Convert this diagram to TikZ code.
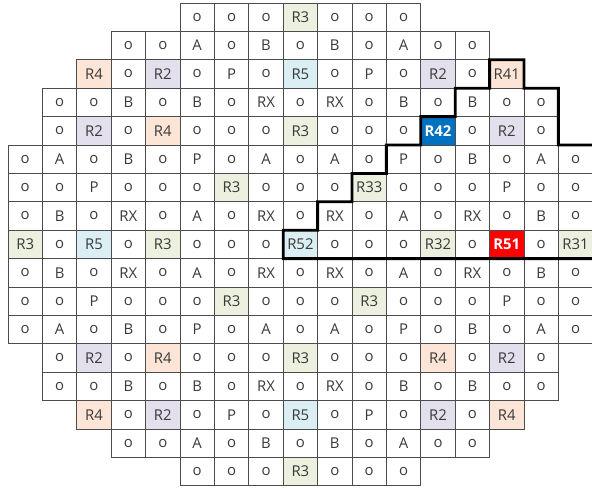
\documentclass[tikz,border=0pt]{standalone}
\usepackage{fontspec}
\setmainfont{Open Sans}
\usepackage{xcolor}
\usepackage{tikz}
\usetikzlibrary{positioning,calc}

\definecolor{rtwo}{HTML}{E4DFEC}
\definecolor{rthree}{HTML}{EBF1DE}
\definecolor{rfour}{HTML}{FCE4D6}
\definecolor{rfive}{HTML}{DAEEF3}
\definecolor{rblue}{HTML}{0070C0}
\definecolor{rred}{HTML}{FF0000}
\definecolor{txt}{HTML}{3A3A3A}

\begin{document}
\begin{tikzpicture}[
    x=0.86cm, y=0.71cm,
    cell/.style={rectangle, draw=black!70, line width=0.55pt, minimum width=0.86cm, minimum height=0.71cm, inner sep=0pt, outer sep=0pt, text=txt, font=\fontsize{10.6}{12}\selectfont},
    c-o/.style={}, c-A/.style={}, c-B/.style={}, c-P/.style={}, c-RX/.style={},
    c-R2/.style={fill=rtwo},
    c-R3/.style={fill=rthree}, c-R31/.style={fill=rthree}, c-R32/.style={fill=rthree}, c-R33/.style={fill=rthree},
    c-R4/.style={fill=rfour}, c-R41/.style={fill=rfour},
    c-R5/.style={fill=rfive}, c-R52/.style={fill=rfive},
    c-R42/.style={fill=rblue, text=white, font=\fontsize{10.6}{12}\selectfont\bfseries},
    c-R51/.style={fill=rred, text=white, font=\fontsize{10.6}{12}\selectfont\bfseries},
    border/.style={draw=black, line width=2pt}
]

\useasboundingbox (-0.2cm,0.075cm) rectangle (14.6cm,-12.125cm);

% row / first column / cells
\foreach \r/\s/\labs in {
    1/6/{o,o,o,R3,o,o,o},
    2/4/{o,o,A,o,B,o,B,o,A,o,o},
    3/3/{R4,o,R2,o,P,o,R5,o,P,o,R2,o,R41},
    4/2/{o,o,B,o,B,o,RX,o,RX,o,B,o,B,o,o},
    5/2/{o,R2,o,R4,o,o,o,R3,o,o,o,R42,o,R2,o},
    6/1/{o,A,o,B,o,P,o,A,o,A,o,P,o,B,o,A,o},
    7/1/{o,o,P,o,o,o,R3,o,o,o,R33,o,o,o,P,o,o},
    8/1/{o,B,o,RX,o,A,o,RX,o,RX,o,A,o,RX,o,B,o},
    9/1/{R3,o,R5,o,R3,o,o,o,R52,o,o,o,R32,o,R51,o,R31},
    10/1/{o,B,o,RX,o,A,o,RX,o,RX,o,A,o,RX,o,B,o},
    11/1/{o,o,P,o,o,o,R3,o,o,o,R3,o,o,o,P,o,o},
    12/1/{o,A,o,B,o,P,o,A,o,A,o,P,o,B,o,A,o},
    13/2/{o,R2,o,R4,o,o,o,R3,o,o,o,R4,o,R2,o},
    14/2/{o,o,B,o,B,o,RX,o,RX,o,B,o,B,o,o},
    15/3/{R4,o,R2,o,P,o,R5,o,P,o,R2,o,R4},
    16/4/{o,o,A,o,B,o,B,o,A,o,o},
    17/6/{o,o,o,R3,o,o,o}}
{
    \foreach \lab [count=\i] in \labs {
        \pgfmathtruncatemacro{\col}{\s+\i-1}
        \node[cell, c-\lab] (r\r c\col) at (\col-0.5, -\r+0.5) {\lab};
    }
}

% thick boundary
\draw[border] (r9c17.south east) -- (r9c9.south west) -- (r9c9.north west)
    -- (r8c10.south west) -- (r8c10.north west)
    -- (r7c11.south west) -- (r7c11.north west)
    -- (r6c12.south west) -- (r6c12.north west)
    -- (r5c13.south west) -- (r5c13.north west)
    -- (r4c14.south west) -- (r4c14.north west)
    -- (r3c15.south west) -- (r3c15.north west)
    -- (r3c15.north east) -- (r3c15.south east)
    -- (r4c16.north east) -- (r5c16.south east)
    -- (r6c17.north east);

\end{tikzpicture}
\end{document}
